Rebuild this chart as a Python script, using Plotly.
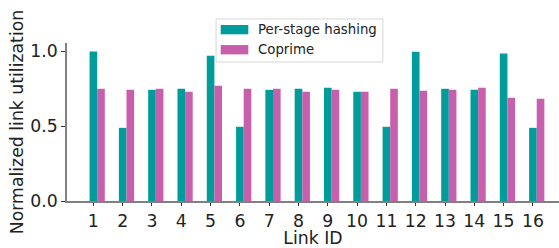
import plotly.graph_objects as go

link_ids = list(range(1, 17))
tick_labels = [str(i) for i in link_ids]
per_stage = [1.0, 0.489, 0.743, 0.750, 0.971, 0.496, 0.743, 0.750,
             0.757, 0.730, 0.496, 0.998, 0.750, 0.743, 0.985, 0.489]
coprime = [0.750, 0.743, 0.750, 0.730, 0.770, 0.750, 0.750, 0.730,
           0.743, 0.730, 0.750, 0.737, 0.743, 0.757, 0.690, 0.683]
series_names = ["Per-stage hashing", "Coprime"]
series_colors = ["#009c9c", "#c85fac"]

W = 0.26
FS = 17.3
fig = go.Figure()
fig.add_trace(go.Bar(x=link_ids, y=per_stage, width=W, name=series_names[0],
                     marker=dict(color=series_colors[0], line=dict(width=0))))
fig.add_trace(go.Bar(x=[i + W for i in link_ids], y=coprime, width=W, name=series_names[1],
                     marker=dict(color=series_colors[1], line=dict(width=0))))

# manual legend (matplotlib-style wide swatches)
fig.add_shape(type="rect", xref="paper", yref="paper", x0=0.303, x1=0.642, y0=0.880, y1=1.152,
              line=dict(color="#d6d6d6", width=1), fillcolor="rgba(255,255,255,0.9)", layer="above")
sw_y = [(1.055, 1.114), (0.928, 0.987)]
txt_y = [1.084, 0.958]
for name, col, (y0, y1), ty in zip(series_names, series_colors, sw_y, txt_y):
    fig.add_shape(type="rect", xref="paper", yref="paper", x0=0.3124, x1=0.3685, y0=y0, y1=y1,
                  line=dict(width=0), fillcolor=col, layer="above")
    fig.add_annotation(xref="paper", yref="paper", x=0.386, y=ty, text=name, showarrow=False,
                       xanchor="left", yanchor="middle", borderpad=0,
                       font=dict(size=13.3, color="#222222"))

fig.update_layout(
    width=559, height=248,
    margin=dict(l=67, r=0, t=43, b=47, autoexpand=False),
    plot_bgcolor="white", paper_bgcolor="white",
    barmode="overlay",
    font=dict(family="DejaVu Sans", color="#222222"),
    showlegend=False,
    xaxis=dict(range=[0.1, 16.89], tickmode="array", tickvals=link_ids, ticktext=tick_labels,
               showgrid=False, zeroline=False, showline=True, linecolor="#808080", linewidth=1.5,
               ticks="outside", ticklen=3, tickcolor="#333333", tickfont=dict(size=FS),
               title=dict(text="Link ID", font=dict(size=FS), standoff=2), automargin=False),
    yaxis=dict(range=[0, 1.056], tickvals=[0.0, 0.5, 1.0], ticktext=["0.0", "0.5", "1.0"],
               showgrid=False, zeroline=False, showline=True, linecolor="#808080", linewidth=1.5,
               ticks="outside", ticklen=4, tickcolor="#333333", tickfont=dict(size=FS),
               title=dict(text="Normalized link utilization", font=dict(size=FS), standoff=2),
               automargin=False),
)

fig.write_html("out.html", config={"displayModeBar": False},
               post_script="document.body.style.margin='0';document.body.style.padding='0';")
